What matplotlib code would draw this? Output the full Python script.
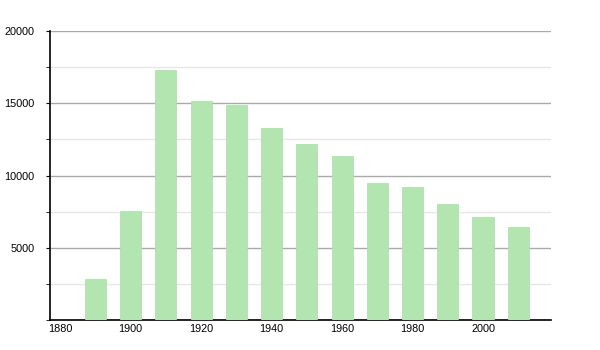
import matplotlib
matplotlib.use("Agg")
import matplotlib.pyplot as plt
from matplotlib.ticker import MultipleLocator

years = [1890, 1900, 1910, 1920, 1930, 1940, 1950, 1960, 1970, 1980, 1990, 2000, 2010]
population = [2840, 7540, 17300, 15160, 14860, 13290, 12180, 11350, 9460, 9200, 8030, 7110, 6420]
x_ticks = [1880, 1900, 1920, 1940, 1960, 1980, 2000]
y_ticks = [5000, 10000, 15000, 20000]

plt.rcParams['font.family'] = ['Liberation Sans', 'DejaVu Sans']

fig = plt.figure(figsize=(6, 3.5), dpi=100)
ax = fig.add_axes([50/600, 30/350, 501/600, 289/350])

ax.bar(years, population, width=6, color='#b3e5b1', edgecolor='#abdca9', linewidth=0.5, zorder=3)

ax.set_xlim(1877.1, 2019.3)
ax.set_ylim(0, 20000)

ax.set_xticks(x_ticks)
ax.set_xticklabels([str(v) for v in x_ticks])
ax.set_yticks(y_ticks)
ax.set_yticklabels([str(v) for v in y_ticks])
ax.yaxis.set_minor_locator(MultipleLocator(2500))

ax.grid(axis='y', which='major', color='#aaaaaa', linewidth=1, zorder=1)
ax.grid(axis='y', which='minor', color='#e6e6e6', linewidth=1, zorder=1)
ax.set_axisbelow(True)

for s in ['top', 'right']:
    ax.spines[s].set_visible(False)
ax.spines['left'].set_color('black')
ax.spines['bottom'].set_color('black')
ax.spines['left'].set_linewidth(1.2)
ax.spines['bottom'].set_linewidth(1.2)

ax.tick_params(axis='x', length=0, labelsize=7.8, pad=3)
ax.tick_params(axis='y', which='major', length=3, labelsize=7.8, pad=8)
ax.tick_params(axis='y', which='minor', length=3)

fig.savefig('out.png', dpi=100)
